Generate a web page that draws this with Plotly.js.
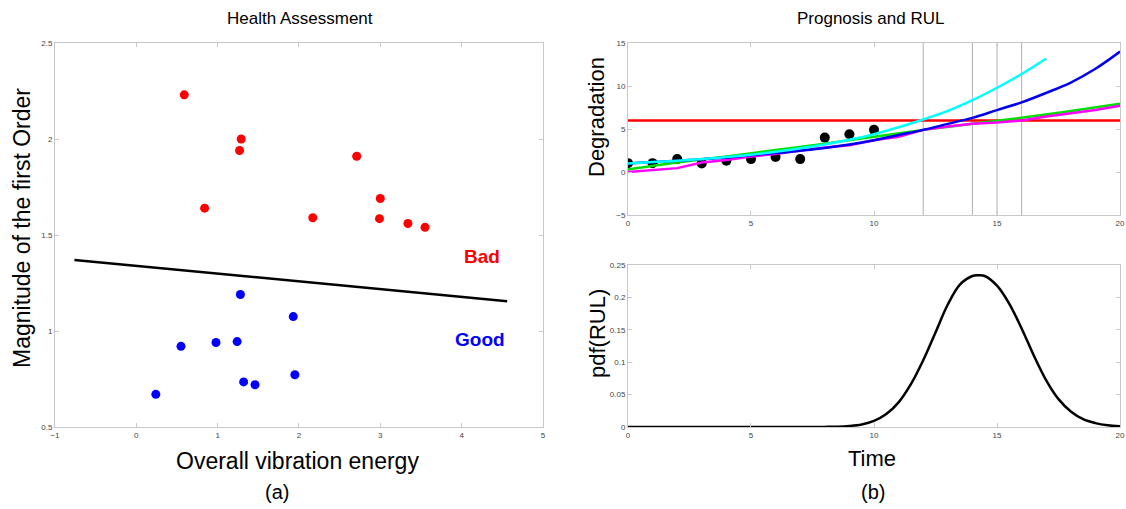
<!DOCTYPE html>
<html><head><meta charset="utf-8">
<script src="https://cdn.plot.ly/plotly-3.0.1.min.js"></script>
<style>html,body{margin:0;padding:0;background:#fff}#c{width:1126px;height:509px}</style>
</head><body><div id="c"></div>
<script>
// Health assessment (a)
const badX = [0.59, 1.29, 1.27, 0.84, 2.71, 2.17, 3.0, 2.99, 3.34, 3.55];
const badY = [2.23, 2.0, 1.94, 1.64, 1.91, 1.59, 1.69, 1.585, 1.56, 1.54];
const goodX = [1.28, 1.93, 0.55, 0.98, 1.24, 0.24, 1.32, 1.46, 1.95];
const goodY = [1.19, 1.075, 0.92, 0.94, 0.945, 0.67, 0.735, 0.72, 0.772];
const boundaryX = [-0.76, 4.56];
const boundaryY = [1.37, 1.155];

// Prognosis (b, top)
const obsT = [0,1,2,3,4,5,6,7,8,9,10];
const obsY = [1.03, 1.03, 1.5, 1.0, 1.3, 1.5, 1.75, 1.5, 4.0, 4.4, 4.9];
const cyanT = [0,1,2,3,4,5,6,7,8,9,10,11,12,13,14,15,16,17];
const cyanY = [1.0,1.15,1.3,1.5,1.75,2.0,2.35,2.75,3.2,3.75,4.4,5.2,6.1,7.1,8.35,9.8,11.4,13.2];
const blueT = [0,2,4,6,8,9,10,11,12,13,14,15,16,17,18,19,20];
const blueY = [1.0,1.3,1.7,2.2,2.8,3.2,3.7,4.3,4.9,5.6,6.3,7.2,8.1,9.2,10.4,12.0,14.0];
const greenT = [0,2,4,6,8,10,12,14,16,18,20];
const greenY = [0.3,1.1,1.8,2.55,3.3,4.1,4.9,5.6,6.3,7.1,7.95];
const magentaT = [0,2,3,4,5,6,7,8,9,10,11,12,13,14,15,16,17,18,19,20];
const magentaY = [0.0,0.45,1.1,1.4,1.8,2.1,2.5,2.85,3.1,3.7,4.1,4.9,5.3,5.6,5.75,6.0,6.45,6.8,7.2,7.7];
const threshold = 6;
const rulLines = [12, 14, 15, 16];

// pdf(RUL) (b, bottom)
const pdfT = [0,2,4,6,7,8,8.5,9,9.5,10,10.5,11,11.5,12,12.5,13,13.5,14,14.25,14.5,15,15.5,16,16.5,17,17.5,18,18.5,19,19.5,20];
const pdfY = [0,0,0,0,0.00005,0.0002,0.0005,0.0016,0.004,0.0095,0.020,0.038,0.066,0.103,0.146,0.189,0.220,0.233,0.234,0.233,0.218,0.190,0.152,0.110,0.072,0.043,0.024,0.012,0.006,0.0026,0.001];

const font = "Liberation Sans, Arial, sans-serif";
const traces = [
  {x: boundaryX, y: boundaryY, mode:'lines', line:{color:'#000', width:2.5}, xaxis:'x', yaxis:'y'},
  {x: badX, y: badY, mode:'markers', marker:{color:'#ff0000', size:9}, xaxis:'x', yaxis:'y'},
  {x: goodX, y: goodY, mode:'markers', marker:{color:'#0000ff', size:9}, xaxis:'x', yaxis:'y'}
];
rulLines.forEach(v => traces.push({x:[v,v], y:[-5,15], mode:'lines', line:{color:'#b0b0b0', width:1}, xaxis:'x2', yaxis:'y2'}));
traces.push({x:[0,20], y:[threshold,threshold], mode:'lines', line:{color:'#ff0000', width:2.5}, xaxis:'x2', yaxis:'y2'});
traces.push({x: obsT, y: obsY, mode:'markers', marker:{color:'#000', size:10}, xaxis:'x2', yaxis:'y2'});
traces.push({x: greenT, y: greenY, mode:'lines', line:{color:'#00e000', width:2.5, shape:'spline'}, xaxis:'x2', yaxis:'y2'});
traces.push({x: magentaT, y: magentaY, mode:'lines', line:{color:'#ff00ff', width:2.5}, xaxis:'x2', yaxis:'y2'});
traces.push({x: blueT, y: blueY, mode:'lines', line:{color:'#0000ee', width:2.5, shape:'spline'}, xaxis:'x2', yaxis:'y2'});
traces.push({x: cyanT, y: cyanY, mode:'lines', line:{color:'#00ffff', width:2.5, shape:'spline'}, xaxis:'x2', yaxis:'y2'});
traces.push({x: pdfT, y: pdfY, mode:'lines', line:{color:'#000', width:2.5, shape:'spline', smoothing:1}, xaxis:'x3', yaxis:'y3'});

const ax = {
  showline:true, mirror:'ticks', linecolor:'#c8c8c8', linewidth:1, ticks:'inside', ticklen:4, tickcolor:'#c8c8c8',
  showgrid:false, zeroline:false, tickfont:{family:font, size:8, color:'#444'}
};
const P = (px, py) => ({xref:'paper', yref:'paper', x:px/1126, y:1-py/509, xanchor:'center', yanchor:'middle', showarrow:false});
const ann = (px, py, text, size, color, angle) => Object.assign(P(px, py), {text:text, textangle:angle||0, font:{family:font, size:size, color:color||'#000'}});
const layout = {
  width:1126, height:509, margin:{l:0,r:0,t:0,b:0}, showlegend:false,
  paper_bgcolor:'#fff', plot_bgcolor:'#fff',
  xaxis: Object.assign({}, ax, {domain:[0.0488,0.4822], range:[-1,5], dtick:1, anchor:'y'}),
  yaxis: Object.assign({}, ax, {domain:[0.1611,0.9155], range:[0.5,2.5], dtick:0.5, anchor:'x'}),
  xaxis2: Object.assign({}, ax, {domain:[0.5577,0.9947], range:[0,20], dtick:5, anchor:'y2'}),
  yaxis2: Object.assign({}, ax, {domain:[0.5776,0.9155], range:[-5,15], dtick:5, anchor:'x2'}),
  xaxis3: Object.assign({}, ax, {domain:[0.5577,0.9947], range:[0,20], dtick:5, anchor:'y3'}),
  yaxis3: Object.assign({}, ax, {domain:[0.1611,0.4794], range:[0,0.25], dtick:0.05, anchor:'x3'}),
  annotations: [
    ann(300, 18, 'Health Assessment', 17),
    ann(870, 18, 'Prognosis and RUL', 17),
    ann(22, 228, 'Magnitude of the first Order', 23, '#000', -90),
    ann(297, 461, 'Overall vibration energy', 23),
    ann(277, 492, '(a)', 20),
    ann(597, 117, 'Degradation', 22, '#000', -90),
    ann(597, 334, 'pdf(RUL)', 22, '#000', -90),
    ann(872, 458, 'Time', 22),
    ann(873, 492, '(b)', 20),
    Object.assign({xref:'x', yref:'y', x:4.25, y:1.39, xanchor:'center', yanchor:'middle', showarrow:false, text:'<b>Bad</b>', font:{family:font, size:19, color:'#ff0000'}}),
    Object.assign({xref:'x', yref:'y', x:4.22, y:0.955, xanchor:'center', yanchor:'middle', showarrow:false, text:'<b>Good</b>', font:{family:font, size:19, color:'#0000ff'}})
  ]
};
Plotly.newPlot('c', traces, layout, {displayModeBar:false, staticPlot:true});
</script></body></html>
